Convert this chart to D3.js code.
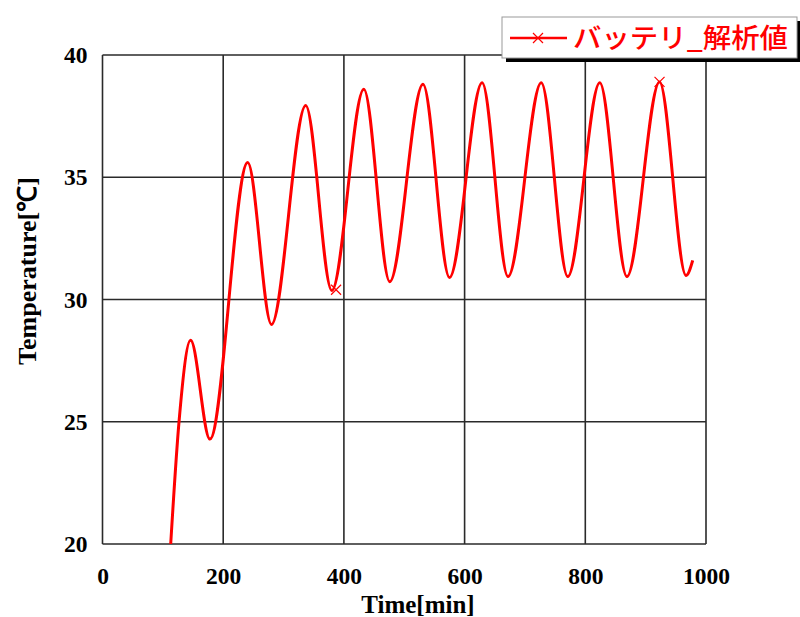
<!DOCTYPE html>
<html><head><meta charset="utf-8">
<script src="https://cdn.jsdelivr.net/npm/d3@7"></script>
<style>html,body{margin:0;padding:0;background:#fff;}svg{display:block;}</style>
</head><body>
<svg id="c" width="800" height="617"></svg>
<script>
// Data (extrema of the curve plus start/end)
const times = [113, 126.8, 146, 178, 240.6, 280, 336.7, 380, 433, 476, 531, 575, 629, 672, 727, 771, 824, 869, 923, 967, 978];
const temps = [20.0, 25.0, 28.33, 24.29, 35.6, 28.98, 37.93, 30.37, 38.6, 30.73, 38.8, 30.9, 38.86, 30.94, 38.86, 30.94, 38.86, 30.94, 38.9, 30.98, 31.6];
const markerTimes = [387, 923];
const markerTemps = [30.4, 38.9];
const xTicks = [0, 200, 400, 600, 800, 1000];
const yTicks = [20, 25, 30, 35, 40];
const seriesName = "バッテリ_解析値";
const xTitle = "Time[min]";
const yTitle = "Temperature[℃]";

const svg = d3.select("#c");
const L = 102.5, R = 706, T = 55, B = 544;
const x = d3.scaleLinear().domain([0, 1000]).range([L, R]);
const y = d3.scaleLinear().domain([20, 40]).range([B, T]);
const gridColor = "#2a2a2a";
const serif = "'Liberation Serif','Times New Roman',serif";

// grid
svg.append("g").selectAll("line").data(xTicks).join("line")
  .attr("x1", d => x(d)).attr("x2", d => x(d)).attr("y1", T).attr("y2", B)
  .attr("stroke", gridColor).attr("stroke-width", 1.6);
svg.append("g").selectAll("line").data(yTicks).join("line")
  .attr("x1", L).attr("x2", R).attr("y1", d => y(d)).attr("y2", d => y(d))
  .attr("stroke", gridColor).attr("stroke-width", 1.6);

// axes labels via d3 axes (no lines)
const xAxis = svg.append("g").attr("transform", `translate(0,${B})`)
  .call(d3.axisBottom(x).tickValues(xTicks).tickFormat(d3.format("d")).tickSize(0).tickPadding(23));
xAxis.select(".domain").remove();
xAxis.selectAll("text").attr("font-family", serif).attr("font-weight", "bold")
  .attr("font-size", 23.5).attr("fill", "#000");
const yAxis = svg.append("g").attr("transform", `translate(${L},0)`)
  .call(d3.axisLeft(y).tickValues(yTicks).tickSize(0).tickPadding(15));
yAxis.select(".domain").remove();
yAxis.selectAll("text").attr("font-family", serif).attr("font-weight", "bold")
  .attr("font-size", 23.5).attr("fill", "#000");

svg.append("text").attr("x", 418).attr("y", 613).attr("text-anchor", "middle")
  .attr("font-family", serif).attr("font-weight", "bold").attr("font-size", 25)
  .text(xTitle);
svg.append("text").attr("transform", "translate(36,271) rotate(-90)").attr("text-anchor", "middle")
  .attr("font-family", serif).attr("font-weight", "bold").attr("font-size", 26)
  .text(yTitle);

// curve
const pts = times.map((t, i) => [t, temps[i]]);
svg.append("defs").append("clipPath").attr("id", "clip").append("rect")
  .attr("x", L).attr("y", T).attr("width", R - L).attr("height", B - T);
svg.append("path").datum(pts).attr("clip-path", "url(#clip)")
  .attr("d", d3.line().x(d => x(d[0])).y(d => y(d[1])).curve(d3.curveMonotoneX))
  .attr("fill", "none").attr("stroke", "#ff0000").attr("stroke-width", 3);

const cross = (g, cx, cy, s) => {
  g.append("path").attr("d", `M${cx - s},${cy - s}L${cx + s},${cy + s}M${cx - s},${cy + s}L${cx + s},${cy - s}`)
    .attr("stroke", "#ff0000").attr("stroke-width", 1.2).attr("fill", "none");
};
const mg = svg.append("g");
markerTimes.forEach((t, i) => cross(mg, x(t), y(markerTemps[i]), 5));

// legend
const lg = svg.append("g");
lg.append("rect").attr("x", 506).attr("y", 21).attr("width", 300).attr("height", 41).attr("fill", "#000");
lg.append("rect").attr("x", 502).attr("y", 17).attr("width", 295).attr("height", 41)
  .attr("fill", "#fff").attr("stroke", "#999").attr("stroke-width", 1);
lg.append("line").attr("x1", 510).attr("x2", 567).attr("y1", 38).attr("y2", 38)
  .attr("stroke", "#ff0000").attr("stroke-width", 2.6);
cross(lg, 538, 38, 5);
lg.append("text").attr("x", 573).attr("y", 48)
  .attr("font-family", "'Noto Sans CJK JP',sans-serif").attr("font-size", 27).attr("font-weight", 500)
  .attr("fill", "#ff0000").attr("textLength", 215).attr("lengthAdjust", "spacingAndGlyphs")
  .text(seriesName);
</script>
</body></html>
